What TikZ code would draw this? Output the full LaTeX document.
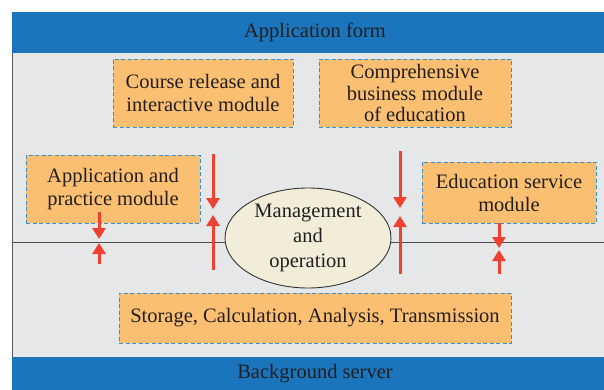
\documentclass[tikz,border=0pt]{standalone}
\usepackage{fontspec}
\setmainfont{Liberation Serif}
\usetikzlibrary{arrows.meta,shapes.geometric}
\definecolor{barblue}{HTML}{1A75BC}
\definecolor{panelgray}{HTML}{E6E7E8}
\definecolor{boxorange}{HTML}{FBBF72}
\definecolor{dashblue}{HTML}{3A8FD0}
\definecolor{arrred}{HTML}{EE4130}
\definecolor{ellfill}{HTML}{F2EDD8}
\definecolor{txt}{HTML}{231F20}
\tikzset{
  modbox/.style={draw=dashblue, dashed, line width=0.9pt, dash pattern=on 4pt off 2.5pt, fill=boxorange, text=txt, align=center, inner sep=0pt, font=\fontsize{20.5}{23}\selectfont},
  bartext/.style={text=txt, font=\fontsize{20.5}{23}\selectfont},
  redarr/.style={draw=arrred, line width=3pt, -{Triangle[width=13pt,length=11pt]}}
}
\begin{document}
\begin{tikzpicture}[x=1pt,y=-1pt]
\useasboundingbox (0,0) rectangle (604,390);
\fill[white] (0,0) rectangle (604,390);
% panel
\fill[panelgray] (12,53) rectangle (604,357);
\draw[gray!70!black, line width=0.8pt] (12,53) -- (12,357);
% bars
\fill[barblue] (12,12) rectangle (604,53);
\node[bartext] (top) at (315,32) {Application form};
\fill[barblue] (12,357) rectangle (604,390);
\node[bartext] (bottom) at (315,374) {Background server};
% horizontal line
\coordinate (hl) at (12,242);
\coordinate (hr) at (604,242);
\draw[gray!60!black, line width=0.8pt] (hl) -- (hr);
% boxes
\node[modbox, minimum width=180pt, minimum height=68pt] (course) at (203,93) {Course release and\\interactive module};
\node[modbox, minimum width=192pt, minimum height=68pt, font=\fontsize{20.5}{21.5}\selectfont] (comp) at (415,93) {Comprehensive\\business module\\of education};
\node[modbox, minimum width=174pt, minimum height=68pt] (appl) at (113,189) {Application and\\practice module};
\node[modbox, minimum width=174pt, minimum height=61pt] (edu) at (509,192.5) {Education service\\module};
\node[modbox, minimum width=392pt, minimum height=50pt] (stor) at (315,318) {Storage, Calculation, Analysis, Transmission};
% ellipse
\node[ellipse, draw=gray!40!black, line width=0.9pt, fill=ellfill, minimum width=166pt, minimum height=100pt, align=center, text=txt, inner sep=0pt, font=\fontsize{20.5}{25}\selectfont] (mgmt) at (308,238) {Management\\and\\operation};
% arrows
\coordinate (a1s) at (99,212); \coordinate (a1e) at (99,239);
\coordinate (a2s) at (99,264); \coordinate (a2e) at (99,243);
\draw[redarr] (a1s) -- (a1e);
\draw[redarr] (a2s) -- (a2e);
\coordinate (b1s) at (213,154); \coordinate (b1e) at (213,209);
\coordinate (b2s) at (213,270); \coordinate (b2e) at (213,215);
\draw[redarr] (b1s) -- (b1e);
\draw[redarr] (b2s) -- (b2e);
\coordinate (c1s) at (400,151); \coordinate (c1e) at (400,208);
\coordinate (c2s) at (400,274); \coordinate (c2e) at (400,216);
\draw[redarr] (c1s) -- (c1e);
\draw[redarr] (c2s) -- (c2e);
\coordinate (d1s) at (499,223); \coordinate (d1e) at (499,248);
\coordinate (d2s) at (499,274); \coordinate (d2e) at (499,250);
\draw[redarr] (d1s) -- (d1e);
\draw[redarr] (d2s) -- (d2e);
\end{tikzpicture}
\end{document}
